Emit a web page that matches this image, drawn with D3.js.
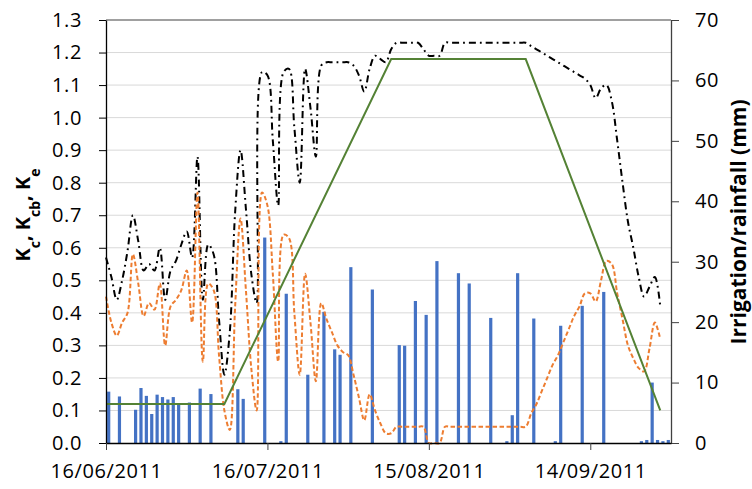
<!DOCTYPE html>
<html>
<head>
<meta charset="utf-8">
<script src="https://cdn.jsdelivr.net/npm/d3@7"></script>
<style>
html,body{margin:0;padding:0;background:#fff;}
svg text{font-family:"Open Sans","Noto Sans",sans-serif;fill:#000;}
</style>
</head>
<body>
<svg id="chart" width="752" height="489"></svg>
<script>
// ---------------- DATA ----------------
const startDate = "2011-06-16";
const endDate = "2011-09-29";
const xTickLabels = ["16/06/2011", "16/07/2011", "15/08/2011", "14/09/2011"];
const leftTicks = [0,0.1,0.2,0.3,0.4,0.5,0.6,0.7,0.8,0.9,1.0,1.1,1.2,1.3];
const rightTicks = [0,10,20,30,40,50,60,70];

// Kc (daily, from 16/06/2011)
const kcValues = [
 0.57,0.51,0.44,0.50,0.59,0.70,0.62,0.53,0.55,0.53,
 0.60,0.44,0.53,0.56,0.61,0.65,0.57,0.88,0.44,0.61,
 0.58,0.38,0.21,0.34,0.71,0.90,0.72,0.52,0.43,1.14,
 1.13,0.93,0.73,1.14,1.15,0.97,0.80,1.15,1.03,0.88,
 1.16,1.17,1.17,1.17,1.17,1.17,1.16,1.13,1.08,1.15,
 1.19,1.18,1.17,1.21,1.23,1.23,1.23,1.23,1.23,1.21,
 1.19,1.19,1.19,1.23,1.23,1.23,1.23,1.23,1.23,1.23,
 1.23,1.23,1.23,1.23,1.23,1.23,1.23,1.23,1.23,1.22,
 1.21,1.20,1.19,1.18,1.17,1.16,1.15,1.14,1.13,1.12,
 1.10,1.06,1.09,1.10,1.05,0.93,0.80,0.68,0.60,0.51,
 0.45,0.48,0.51,0.42
];
// Ke (daily, from 16/06/2011)
const keValues = [
 0.45,0.37,0.33,0.37,0.40,0.58,0.49,0.39,0.43,0.41,
 0.49,0.30,0.42,0.44,0.47,0.53,0.37,0.77,0.25,0.49,
 0.47,0.27,0.10,0.04,0.42,0.69,0.47,0.23,0.10,0.77,
 0.73,0.52,0.25,0.64,0.63,0.40,0.21,0.52,0.37,0.19,
 0.43,0.38,0.34,0.30,0.28,0.27,0.21,0.14,0.07,0.15,
 0.10,0.06,0.03,0.03,0.05,0.05,0.05,0.05,0.05,0.05,
 0.00,0.00,0.00,0.05,0.05,0.05,0.05,0.05,0.05,0.05,
 0.05,0.05,0.05,0.05,0.05,0.05,0.05,0.05,0.05,0.09,
 0.12,0.16,0.20,0.24,0.27,0.31,0.35,0.39,0.42,0.46,
 0.46,0.435,0.50,0.56,0.55,0.46,0.38,0.30,0.26,0.23,
 0.22,0.29,0.37,0.32
];
// Kcb (stage breakpoints)
const kcbDates = ["2011-06-16","2011-07-08","2011-08-08","2011-09-02","2011-09-27"];
const kcbValues = [0.12, 0.12, 1.18, 1.18, 0.10];

// Irrigation / rainfall (mm)
const rainDates = [
 "2011-06-16","2011-06-18","2011-06-21","2011-06-22","2011-06-23","2011-06-24","2011-06-25",
 "2011-06-26","2011-06-27","2011-06-28","2011-06-29","2011-07-01","2011-07-03","2011-07-05",
 "2011-07-10","2011-07-11","2011-07-15","2011-07-18","2011-07-19","2011-07-23","2011-07-26",
 "2011-07-28","2011-07-29","2011-07-31","2011-08-04","2011-08-09","2011-08-10","2011-08-12",
 "2011-08-14","2011-08-16","2011-08-20","2011-08-22","2011-08-26","2011-08-29","2011-08-30",
 "2011-08-31","2011-09-03","2011-09-07","2011-09-08","2011-09-12","2011-09-16","2011-09-23",
 "2011-09-24","2011-09-25","2011-09-26","2011-09-27","2011-09-28"
];
const rainValues = [
 8.5,7.7,5.5,9.1,7.8,4.8,8.0,
 7.6,7.2,7.6,6.3,6.7,9.0,8.1,
 8.9,7.3,34.0,0.3,24.7,11.3,21.7,
 15.5,14.6,29.1,25.4,16.2,16.1,23.5,
 21.2,30.1,28.1,26.4,20.7,0.3,4.6,
 28.1,20.6,0.3,19.4,22.7,25.0,0.3,
 0.5,10.0,0.5,0.3,0.5
];

// ---------------- CHART ----------------
const parse = d3.timeParse("%Y-%m-%d");
const fmtTick = d3.timeFormat("%d/%m/%Y");
const svg = d3.select("#chart");
const L = 106, R = 671, T = 20, B = 443;

const x = d3.scaleTime().domain([parse(startDate), parse(endDate)]).range([L, R]);
const yL = d3.scaleLinear().domain([0, 1.3]).range([B, T]);
const yR = d3.scaleLinear().domain([0, 70]).range([B, T]);

const dayW = x(d3.timeDay.offset(parse(startDate), 1)) - x(parse(startDate));
const days = d3.timeDay.range(parse(startDate), d3.timeDay.offset(parse(startDate), kcValues.length));

// gridlines
svg.append("g").selectAll("line").data(leftTicks.filter(v => v > 0)).join("line")
  .attr("x1", L).attr("x2", R)
  .attr("y1", d => yL(d)).attr("y2", d => yL(d))
  .attr("stroke", d => d >= 1.29 ? "#808080" : "#d9d9d9")
  .attr("stroke-width", d => d >= 1.29 ? 1.3 : 1);

// bars
const barW = 3.2;
svg.append("g").selectAll("rect").data(rainDates.map((d, i) => ({d: parse(d), v: rainValues[i]}))).join("rect")
  .attr("x", d => x(d.d) + dayW / 2 - barW / 2)
  .attr("width", barW)
  .attr("y", d => yR(d.v))
  .attr("height", d => B - yR(d.v))
  .attr("fill", "#4472C4");

// lines
const kcData = kcValues.map((v, i) => ({d: days[i], v}));
const keData = keValues.map((v, i) => ({d: days[i], v}));
const kcbData = kcbDates.map((d, i) => ({d: parse(d), v: kcbValues[i]}));

svg.append("path").datum(kcData)
  .attr("d", d3.line().x(d => x(d.d)).y(d => yL(d.v)).curve(d3.curveCatmullRom.alpha(0.5)))
  .attr("fill", "none").attr("stroke", "#000").attr("stroke-width", 2)
  .attr("stroke-dasharray", "7,4,1.8,4");

svg.append("path").datum(keData)
  .attr("d", d3.line().x(d => x(d.d)).y(d => yL(d.v)).curve(d3.curveCatmullRom.alpha(0.5)))
  .attr("fill", "none").attr("stroke", "#ED7D31").attr("stroke-width", 2)
  .attr("stroke-dasharray", "4.5,2.5");

svg.append("path").datum(kcbData)
  .attr("d", d3.line().x(d => x(d.d)).y(d => yL(d.v)))
  .attr("fill", "none").attr("stroke", "#548235").attr("stroke-width", 2);

// axes
const fontSize = "20px";
const gL = svg.append("g").attr("transform", `translate(${L},0)`)
  .call(d3.axisLeft(yL).tickValues(leftTicks).tickFormat(d3.format(".1f")).tickSize(7).tickSizeOuter(0).tickPadding(17));
gL.select(".domain").attr("stroke", "#000").attr("stroke-width", 1.3);
gL.selectAll(".tick line").attr("stroke", "#000");
gL.selectAll("text").style("font-size", fontSize).style("letter-spacing", "0.6px").attr("fill", "#000");

const gR = svg.append("g").attr("transform", `translate(${R},0)`)
  .call(d3.axisRight(yR).tickValues(rightTicks).tickSize(8).tickSizeOuter(0).tickPadding(16));
gR.select(".domain").attr("stroke", "#404040").attr("stroke-width", 1.3);
gR.selectAll(".tick line").attr("stroke", "#404040");
gR.selectAll("text").style("font-size", fontSize).style("letter-spacing", "0.6px").attr("fill", "#000");

const xTickDates = xTickLabels.map(s => d3.timeParse("%d/%m/%Y")(s));
const gB = svg.append("g").attr("transform", `translate(0,${B})`)
  .call(d3.axisBottom(x).tickValues(xTickDates).tickFormat(fmtTick).tickSize(7).tickSizeOuter(0).tickPadding(14));
gB.select(".domain").attr("stroke", "#000").attr("stroke-width", 1.3);
gB.selectAll(".tick line").attr("stroke", "#404040");
gB.selectAll("text").style("font-size", fontSize).style("letter-spacing", "0.6px").attr("fill", "#000");

// axis titles
const lt = svg.append("text")
  .attr("transform", "translate(30,215) rotate(-90)")
  .attr("text-anchor", "middle")
  .style("font-size", "20px").style("font-weight", "bold");
lt.append("tspan").text("K");
lt.append("tspan").text("c").attr("baseline-shift", "sub").style("font-size", "14px");
lt.append("tspan").text(", K");
lt.append("tspan").text("cb").attr("baseline-shift", "sub").style("font-size", "14px");
lt.append("tspan").text(", K");
lt.append("tspan").text("e").attr("baseline-shift", "sub").style("font-size", "14px");

svg.append("text")
  .attr("transform", "translate(746,222) rotate(-90)")
  .attr("text-anchor", "middle")
  .style("font-size", "21px").style("font-weight", "bold")
  .text("Irrigation/rainfall (mm)");
</script>
</body>
</html>
